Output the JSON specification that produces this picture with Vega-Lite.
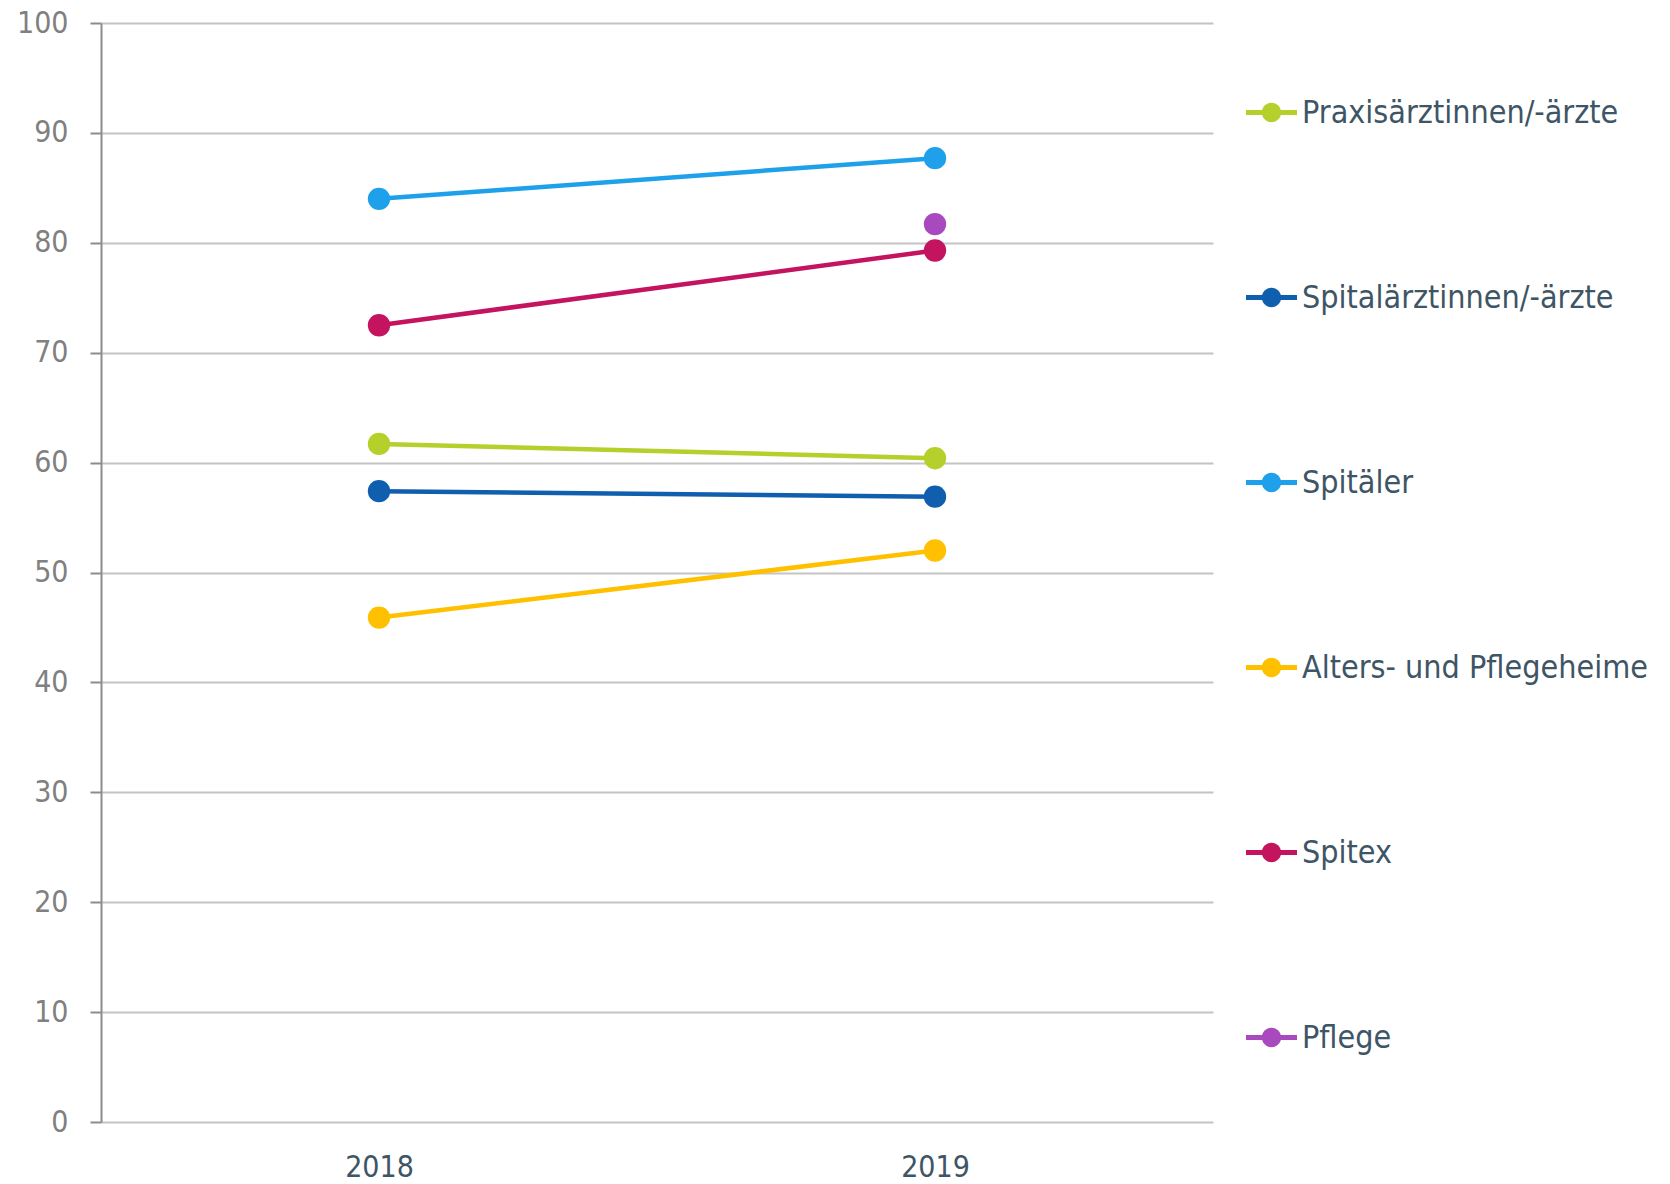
{
  "$schema": "https://vega.github.io/schema/vega-lite/v6.json",
  "width": 1112,
  "height": 1099,
  "autosize": {"type": "none"},
  "padding": {"left": 101, "top": 23, "right": 457, "bottom": 62},
  "background": "white",
  "config": {
    "view": {"stroke": null},
    "font": "DejaVu Sans Condensed, Roboto",
    "legend": {"padding": 0}
  },
  "data": {
    "values": [
      {"Gruppe": "Praxisärztinnen/-ärzte", "Jahr": "2018", "Wert": 61.7},
      {"Gruppe": "Praxisärztinnen/-ärzte", "Jahr": "2019", "Wert": 60.4},
      {"Gruppe": "Spitalärztinnen/-ärzte", "Jahr": "2018", "Wert": 57.4},
      {"Gruppe": "Spitalärztinnen/-ärzte", "Jahr": "2019", "Wert": 56.9},
      {"Gruppe": "Spitäler", "Jahr": "2018", "Wert": 84.0},
      {"Gruppe": "Spitäler", "Jahr": "2019", "Wert": 87.7},
      {"Gruppe": "Alters- und Pflegeheime", "Jahr": "2018", "Wert": 45.9},
      {"Gruppe": "Alters- und Pflegeheime", "Jahr": "2019", "Wert": 52.0},
      {"Gruppe": "Spitex", "Jahr": "2018", "Wert": 72.5},
      {"Gruppe": "Spitex", "Jahr": "2019", "Wert": 79.3},
      {"Gruppe": "Pflege", "Jahr": "2019", "Wert": 81.7}
    ]
  },
  "encoding": {
    "x": {
      "field": "Jahr", "type": "ordinal",
      "scale": {"type": "point", "padding": 0.5},
      "axis": {
        "title": null, "labelAngle": 0, "ticks": false, "domain": false, "grid": false,
        "labelFontSize": 30, "labelColor": "#3e5566", "labelPadding": 30,
        "labelFont": "DejaVu Sans Condensed, Roboto"
      }
    },
    "y": {
      "field": "Wert", "type": "quantitative",
      "scale": {"domain": [0, 100], "nice": false},
      "axis": {
        "title": null, "values": [0,10,20,30,40,50,60,70,80,90,100],
        "domainColor": "#8c8c8c", "domainWidth": 2,
        "tickColor": "#8c8c8c", "tickSize": 11, "tickWidth": 2,
        "gridColor": "#c4c4c4", "gridWidth": 2,
        "labelFontSize": 30, "labelColor": "#808080", "labelPadding": 22,
        "labelFont": "DejaVu Sans Condensed, Roboto"
      }
    },
    "color": {
      "field": "Gruppe", "type": "nominal",
      "scale": {
        "domain": ["Praxisärztinnen/-ärzte", "Spitalärztinnen/-ärzte", "Spitäler", "Alters- und Pflegeheime", "Spitex", "Pflege"],
        "range": ["#b5cf2b", "#0f5fae", "#1ea1ea", "#ffc000", "#c4135f", "#a84abe"]
      },
      "legend": {
        "title": null,
        "orient": "none",
        "legendX": 1145,
        "legendY": 64,
        "symbolType": "M-1,-0.1H1V0.1H-1Z M0.38,0 A0.38,0.38 0 1,1 -0.38,0 A0.38,0.38 0 1,1 0.38,0 Z",
        "symbolSize": 2601,
        "symbolStrokeWidth": 0,
        "symbolOpacity": 1,
        "labelFontSize": 32,
        "labelColor": "#3e5566",
        "labelFont": "DejaVu Sans Condensed, Roboto",
        "labelOffset": 5,
        "rowPadding": 143,
        "labelLimit": 500
      }
    }
  },
  "layer": [
    {"mark": {"type": "line", "strokeWidth": 4.5}},
    {"mark": {"type": "point", "filled": true, "size": 500, "opacity": 1}}
  ]
}
